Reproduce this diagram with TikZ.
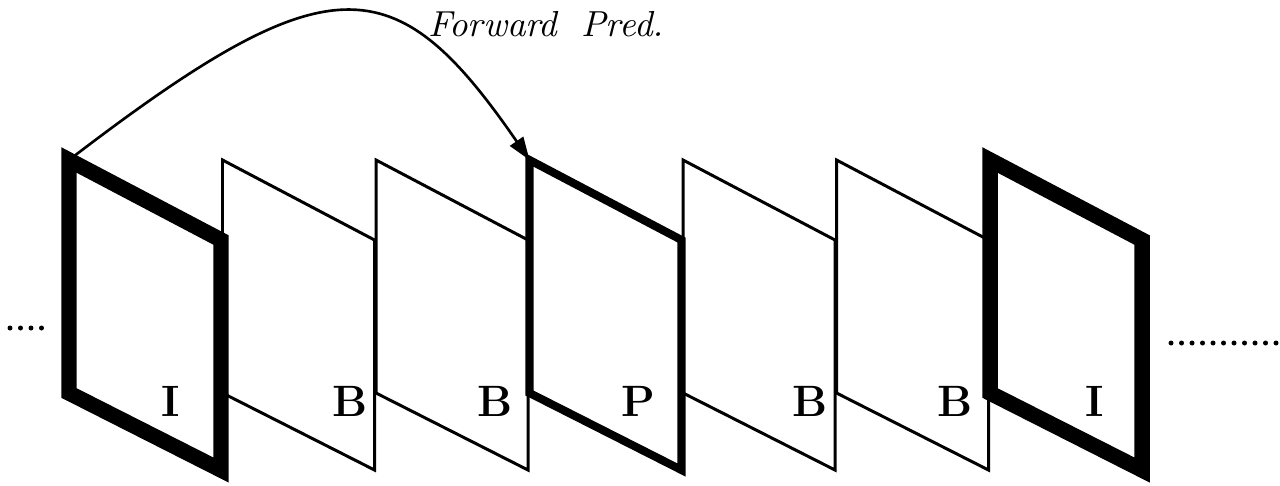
\documentclass[tikz,border=0pt]{standalone}
\usepackage{tikz}
\usetikzlibrary{arrows.meta,calc}

\begin{document}
\begin{tikzpicture}[
    frameThin/.style={line width=0.85pt},
    frameP/.style={line width=2.3pt},
    frameI/.style={line width=4.4pt},
    frameLbl/.style={font=\fontsize{12.5}{14}\selectfont\bfseries},
    predArrow/.style={-{Triangle[length=6.5pt,width=4.5pt]},line width=0.75pt}]

    \useasboundingbox (0,0) rectangle (12.8,-4.85);

    % esquinas superiores de los cuadros
    \foreach \i in {1,...,7}{
      \coordinate (f\i) at ({0.69+1.535*(\i-1)},-1.60);
    }

    % cuadros B (finos)
    \foreach \i in {2,3,5,6}{
      \draw[frameThin] (f\i) -- ++(1.52,-0.80) -- ++(0,-2.30) -- ++(-1.52,0.77) -- cycle;
    }
    % cuadro P
    \draw[frameP] (f4) -- ++(1.52,-0.80) -- ++(0,-2.30) -- ++(-1.52,0.77) -- cycle;
    % cuadros I (gruesos)
    \foreach \i in {1,7}{
      \draw[frameI] (f\i) -- ++(1.52,-0.80) -- ++(0,-2.30) -- ++(-1.52,0.77) -- cycle;
    }

    % etiquetas
    \foreach \i/\x/\t in {1/1.71/I,2/3.50/B,3/4.95/B,4/6.38/P,5/8.10/B,6/9.55/B,7/10.95/I}{
      \node[frameLbl] (l\i) at (\x,-4.01) {\t};
    }

    % prediccion hacia adelante
    \node[font=\fontsize{10.3}{12}\selectfont\itshape] (fwd) at (5.46,-0.24)
      {Forward\hspace{0.3em} Pred.};
    \draw[predArrow] (f1) .. controls (3.30,0.40) and (3.95,0.35) .. (f4);

    % puntos suspensivos
    \foreach \x in {0.10,0.205,0.31,0.415}{
      \fill (\x,-3.28) circle (0.025);
    }
    \foreach \k in {0,...,10}{
      \fill ({11.71+0.105*\k},-3.43) circle (0.025);
    }

\end{tikzpicture}
\end{document}
